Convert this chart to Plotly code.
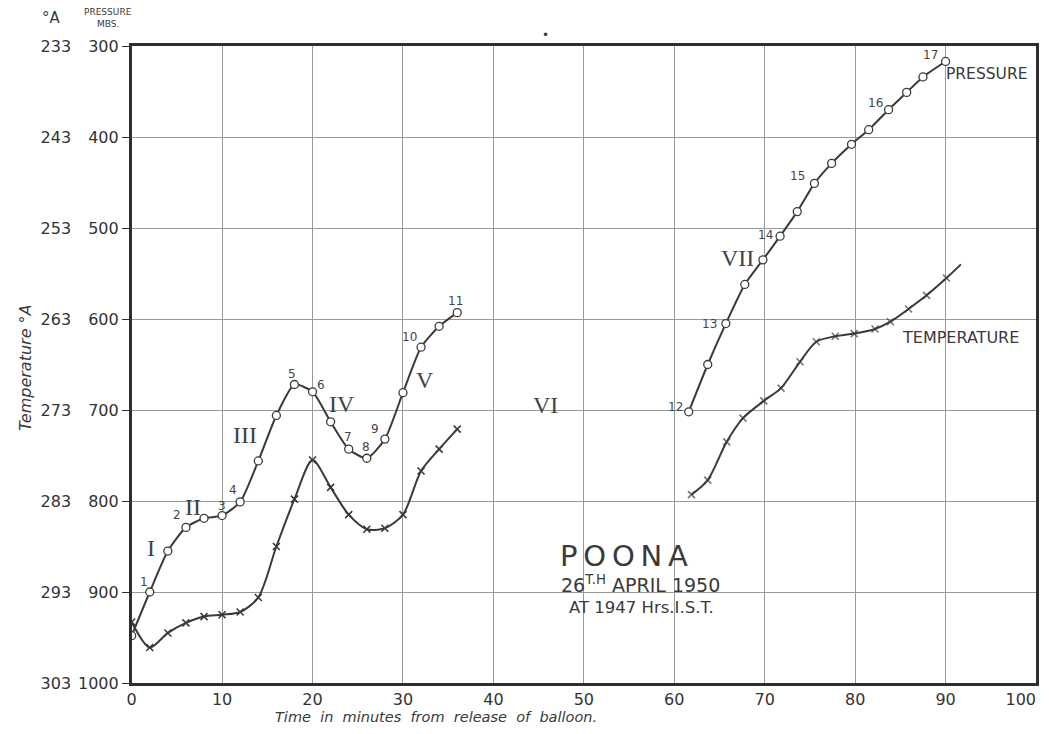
import plotly.graph_objects as go

# ---------------- data ----------------
time_left = [0, 2, 4, 6, 8, 10, 12, 14, 16, 18, 20, 22, 24, 26, 28, 30, 32, 34, 36]
pressure_left = [948, 900, 855, 829, 819, 816, 801, 756, 706, 672, 680, 713, 743, 753, 732, 681, 631, 608, 593]
temp_left = [296.3, 299.1, 297.5, 296.4, 295.7, 295.5, 295.2, 293.6, 288.0, 282.8, 278.5,
             281.5, 284.5, 286.1, 286.0, 284.5, 279.7, 277.3, 275.1]

time_right_p = [61.6, 63.7, 65.7, 67.8, 69.8, 71.7, 73.6, 75.5, 77.4, 79.6, 81.5, 83.7, 85.7, 87.5, 90.0]
pressure_right = [702, 650, 605, 562, 535, 509, 482, 451, 429, 408, 392, 370, 351, 334, 317]
time_right_t = [61.9, 63.7, 65.8, 67.6, 69.9, 71.8, 73.9, 75.7, 77.8, 79.9, 82.2, 83.9, 85.9, 87.9, 90.1, 91.7]
temp_right = [282.3, 280.7, 276.5, 273.9, 272.0, 270.6, 267.7, 265.5, 264.9, 264.6, 264.1,
              263.3, 261.9, 260.4, 258.5, 257.0]

x_ticks = [0, 10, 20, 30, 40, 50, 60, 70, 80, 90, 100]
x_ticks_main = x_ticks[:-1]
x_ticks_end = x_ticks[-1:]
pressure_ticks = [300, 400, 500, 600, 700, 800, 900, 1000]
temp_ticks = [233, 243, 253, 263, 273, 283, 293, 303]

# numbered pressure points: (label, time, pressure, xshift, yshift)
point_labels = [
    ("1", 2, 900, -6, 10), ("2", 6, 829, -9, 12), ("3", 10, 816, 0, 10),
    ("4", 12, 801, -7, 12), ("5", 18, 672, -2, 11), ("6", 20, 680, 8, 7),
    ("7", 24, 743, -1, 12), ("8", 26, 753, -1, 11), ("9", 28, 732, -10, 10),
    ("10", 32, 631, -12, 10), ("11", 36, 593, -2, 12),
    ("12", 61.6, 702, -13, 5), ("13", 65.7, 605, -16, 0), ("14", 71.7, 509, -15, 1),
    ("15", 75.5, 451, -17, 7), ("16", 83.7, 370, -13, 7), ("17", 90.0, 317, -15, 6),
]
roman_labels = [("I", 2.15, 852), ("II", 6.8, 807), ("III", 12.5, 728), ("IV", 23.3, 693),
                ("V", 32.4, 667), ("VI", 45.8, 694), ("VII", 67.0, 533)]

INK = "#3a3a3a"
SANS = "DejaVu Sans"

fig = go.Figure()

circle_marker = dict(symbol="circle", size=8, color="white", line=dict(color=INK, width=1.3))
cross_marker = dict(symbol="x-thin-open", size=7, color=INK, line=dict(color=INK, width=1.6))

fig.add_trace(go.Scatter(x=time_left, y=pressure_left, mode="lines+markers",
                         line=dict(color=INK, width=2, shape="spline", smoothing=0.6),
                         marker=circle_marker, yaxis="y"))
fig.add_trace(go.Scatter(x=time_right_p, y=pressure_right, mode="lines+markers",
                         line=dict(color=INK, width=2, shape="spline", smoothing=0.6),
                         marker=circle_marker, yaxis="y"))
fig.add_trace(go.Scatter(x=time_left, y=temp_left, mode="lines+markers",
                         line=dict(color=INK, width=2, shape="spline", smoothing=0.8),
                         marker=cross_marker, yaxis="y2"))
sizes_right = [7] * (len(time_right_t) - 1) + [0]
fig.add_trace(go.Scatter(x=time_right_t, y=temp_right, mode="lines+markers",
                         line=dict(color=INK, width=2, shape="spline", smoothing=0.8),
                         marker=dict(cross_marker, size=sizes_right), yaxis="y2"))
# invisible helper so the end-tick axis (label "100") is drawn
fig.add_trace(go.Scatter(x=x_ticks_end, y=[pressure_ticks[-1]], mode="markers",
                         marker=dict(size=1, opacity=0), xaxis="x2", yaxis="y",
                         hoverinfo="skip"))

ann = []
for lab, tx, py, dx, dy in point_labels:
    ann.append(dict(x=tx, y=py, xref="x", yref="y", text=lab, showarrow=False,
                    xshift=dx, yshift=dy, font=dict(family=SANS, size=12, color="#444")))
for lab, tx, py in roman_labels:
    ann.append(dict(x=tx, y=py, xref="x", yref="y", text=lab, showarrow=False,
                    font=dict(family="Liberation Serif", size=24, color="#444")))


def pann(x, y, text, size, xref="paper", yref="paper", **kw):
    return dict(x=x, y=y, xref=xref, yref=yref, text=text, showarrow=False,
                xanchor="center", yanchor="middle",
                font=dict(family=SANS, size=size, color="#3a3a3a"), **kw)


ann += [
    pann(94.6, 331, "PRESSURE", 15.5, "x", "y"),
    pann(91.7, 620, "TEMPERATURE", 16, "x", "y"),
    pann(54.4, 860, "P\u2009O\u2009O\u2009N\u2009A", 29, "x", "y"),
    pann(56.3, 891, "26<sup>T.H</sup> APRIL 1950", 19, "x", "y"),
    pann(56.4, 917, "AT 1947 Hrs.I.S.T.", 16.5, "x", "y"),
    pann(45.8, 1.017, "•", 12, "x", "paper"),
    pann(0.0379, 1.044, "°A", 15),
    pann(0.0924, 1.0534, "PRESSURE", 9),
    pann(0.0924, 1.0345, "MBS.", 9),
    pann(0.0117, 0.4945, "<i>Temperature °A</i>", 16, textangle=-90),
    pann(33.6, -0.054, "<i>Time  in  minutes  from  release  of  balloon.</i>", 14.5, "x", "paper"),
]

tickfont = dict(family=SANS, size=16, color="#333")
fig.update_layout(
    width=1033, height=718,
    margin=dict(l=0, r=5, t=38, b=43),
    paper_bgcolor="white", plot_bgcolor="white",
    showlegend=False,
    annotations=ann,
    xaxis=dict(domain=[0.116, 1], range=[0, 100], tickvals=x_ticks_main,
               showgrid=True,
               gridcolor="#999999", gridwidth=1, showline=True, linecolor="#2e2e2e",
               linewidth=2.5, mirror=True, zeroline=False, ticks="", tickfont=tickfont),
    xaxis2=dict(domain=[0.116, 1], range=[0, 100], tickvals=x_ticks_end, overlaying="x",
                side="bottom", anchor="y", ticklabelposition="outside left",
                ticklabelstandoff=5,
                showgrid=False, showline=False, zeroline=False, ticks="", tickfont=tickfont),
    yaxis=dict(range=[1000, 300], tickvals=pressure_ticks, showgrid=True,
               gridcolor="#999999", gridwidth=1, showline=True, linecolor="#2e2e2e",
               linewidth=2.5, mirror=True, zeroline=False, ticks="outside", ticklen=7,
               tickcolor="#333", tickfont=tickfont),
    yaxis2=dict(range=[303, 233], tickvals=temp_ticks, overlaying="y", anchor="free",
                position=0.0568, side="left", showgrid=False, showline=False,
                zeroline=False, ticks="", tickfont=tickfont),
)

fig.write_html("out.html")
